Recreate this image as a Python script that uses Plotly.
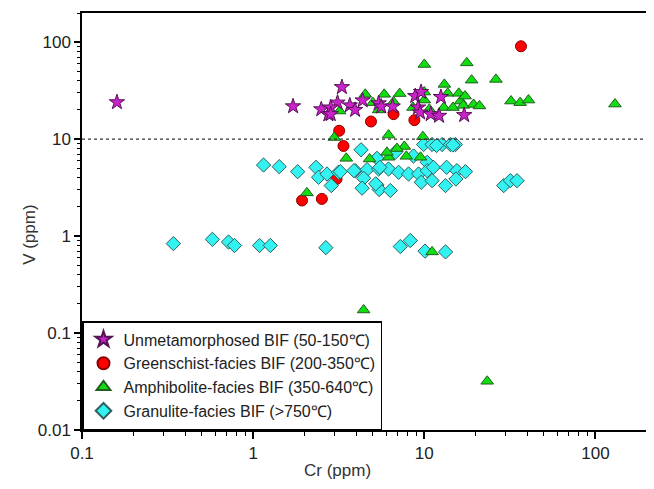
import plotly.graph_objects as go

# ---- data (Cr ppm, V ppm) ----
unmet_cr = [0.16, 1.71, 2.5, 2.75, 3.30, 3.11, 2.84, 2.84, 3.67, 3.94, 4.36, 5.41, 5.6, 6.53,
            8.85, 9.57, 9.2, 9.45, 10.9, 12.2, 12.5, 17.1]
unmet_v = [24, 21.8, 20.3, 18.0, 34.4, 23.8, 21.2, 18.1, 22.3, 20.0, 25.1, 23.4, 21.7, 21.7,
           27.8, 30.6, 21.2, 18.8, 18.1, 17.4, 27.2, 17.7]

green_cr = [1.93, 2.52, 3.07, 3.18, 3.37, 4.88, 6.61, 8.75, 36.7]
green_v = [2.33, 2.42, 3.88, 12.2, 8.5, 15.2, 18.1, 15.7, 90.8]

amph_cr = [10.0, 17.7, 13.1, 18.9, 26.2, 32.1, 36.3, 40.6, 130, 4.52, 5.83, 7.18, 5.01, 5.41,
           6.61, 8.59, 10.0, 10.0, 10.7, 13.0, 13.7, 14.7, 15.9, 16.3, 17.3, 16.9, 19.4, 21.0,
           3.20, 2.98, 6.18, 9.81, 3.50, 7.64, 4.79, 6.18, 9.5, 6.05, 6.92, 7.85, 2.06, 11.1,
           4.42, 23.3]
amph_v = [58.9, 61.2, 36.7, 40.6, 41.3, 24.7, 23.8, 25.3, 23, 29.0, 29.0, 29.5, 23.8, 20.0,
          24.2, 21.2, 30.6, 25.3, 20.3, 21.2, 29.7, 21.2, 29.7, 24.7, 27.8, 22.3, 22.8, 22.0,
          19.5, 10.4, 11.0, 10.6, 6.34, 8.4, 6.24, 6.5, 6.5, 7.3, 8.0, 6.65, 2.79, 0.687,
          0.173, 0.0318]

gran_cr = [1.15, 1.42, 1.82, 2.33, 2.41, 2.70, 2.86, 3.15,
           0.342, 0.578, 0.718, 0.778, 1.09, 1.26, 2.66,
           7.24, 8.28, 10.1, 13.3,
           4.27, 9.9, 11.1, 12.7, 14.2, 15.2, 11.8, 14.7,
           6.76, 5.29, 8.65, 10.4, 3.23, 3.95, 4.63, 5.41, 6.18, 7.08, 8.09, 9.26, 10.4,
           11.3, 13.5, 15.5, 17.4, 15.3, 4.42, 4.33, 5.29, 5.45, 6.33, 9.6, 11.1, 13.3,
           29.1, 31.8, 34.8, 5.5, 5.2, 3.88]
gran_v = [5.41, 5.2, 4.62, 5.12, 4.04, 4.37, 3.32, 4.55,
          0.836, 0.925, 0.869, 0.80, 0.80, 0.80, 0.76,
          0.78, 0.90, 0.70, 0.687,
          7.77, 8.8, 8.8, 8.8, 8.8, 8.8, 8.6, 8.7,
          7.3, 6.34, 6.7, 5.77, 4.62, 4.73, 4.85, 4.92, 4.92, 4.55, 4.37, 4.37, 4.73,
          5.12, 5.12, 4.73, 4.62, 3.88, 3.95, 3.12, 3.37, 3.02, 2.95, 3.59, 3.73, 3.32,
          3.32, 3.73, 3.73, 5.12, 3.46, 4.73]

names = ["Unmetamorphosed BIF (50-150\u2103)",
         "Greenschist-facies BIF (200-350\u2103)",
         "Amphibolite-facies BIF (350-640\u2103)",
         "Granulite-facies BIF (>750\u2103)"]

x_ticks = [0.1, 1, 10, 100]
x_ticktext = ["0.1", "1", "10", "100"]
y_ticks = [0.01, 0.1, 1, 10, 100]
y_ticktext = ["0.01", "0.1", "1", "10", "100"]
x_minor = [m * 10.0 ** e for e in (-1, 0, 1) for m in range(2, 10)] + [200]
y_minor = [m * 10.0 ** e for e in (-2, -1, 0, 1) for m in range(2, 10)] + [200]

FONT = "Arial, Liberation Sans, sans-serif"
TXT = "#222222"

fig = go.Figure()

fig.add_trace(go.Scatter(x=green_cr, y=green_v, mode="markers", name=names[1], legendrank=2,
                         marker=dict(symbol="circle", size=11, color="#FF0000",
                                     line=dict(color="#8B0000", width=1))))
fig.add_trace(go.Scatter(x=gran_cr, y=gran_v, mode="markers", name=names[3], legendrank=4,
                         marker=dict(symbol="diamond", size=11, color="#33F2F2",
                                     line=dict(color="#2F5F5F", width=1))))
fig.add_trace(go.Scatter(x=amph_cr, y=amph_v, mode="markers", name=names[2], legendrank=3,
                         marker=dict(symbol="triangle-up", size=11, color="#11DD11",
                                     line=dict(color="#1F5F1F", width=1))))
fig.add_trace(go.Scatter(x=unmet_cr, y=unmet_v, mode="markers", name=names[0], legendrank=1,
                         marker=dict(symbol="star", size=11.5, color="#CC22CC",
                                     line=dict(color="#551155", width=1))))

fig.add_hline(y=10, line=dict(color="#333333", width=1.2, dash="dot"))

axis_common = dict(type="log", showgrid=False, zeroline=False, showline=True,
                   linecolor="black", linewidth=1.5, mirror=True,
                   ticks="outside", tickcolor="black", tickwidth=1.5,
                   tickfont=dict(family=FONT, size=17, color=TXT))

fig.update_xaxes(**axis_common, range=[-1, 2.301], tickvals=x_ticks, ticktext=x_ticktext,
                 ticklen=7,
                 minor=dict(tickvals=x_minor, ticks="outside", ticklen=4,
                            tickcolor="black", tickwidth=1.2))
fig.update_yaxes(**axis_common, range=[-2, 2.301], tickvals=y_ticks, ticktext=y_ticktext,
                 ticklen=6,
                 minor=dict(tickvals=y_minor, ticks="outside", ticklen=3,
                            tickcolor="black", tickwidth=1.2))

fig.add_annotation(text="Cr (ppm)", xref="paper", yref="paper", x=0.453, y=-0.096,
                   xanchor="center", yanchor="middle", showarrow=False,
                   font=dict(family=FONT, size=17, color="#333333"))
fig.add_annotation(text="V (ppm)", xref="paper", yref="paper", x=-0.092, y=0.468,
                   xanchor="center", yanchor="middle", showarrow=False, textangle=-90,
                   font=dict(family=FONT, size=17, color="#333333"))

fig.update_layout(
    width=646, height=481,
    margin=dict(l=74, r=7, t=5, b=59, autoexpand=False),
    paper_bgcolor="white", plot_bgcolor="white",
    font=dict(family=FONT, size=17, color=TXT),
    legend=dict(x=0, y=0, xanchor="left", yanchor="bottom",
                bgcolor="white", bordercolor="black", borderwidth=1.5,
                font=dict(family=FONT, size=16, color=TXT),
                tracegroupgap=0, itemsizing="constant"),
)

fig.write_html("out.html")
